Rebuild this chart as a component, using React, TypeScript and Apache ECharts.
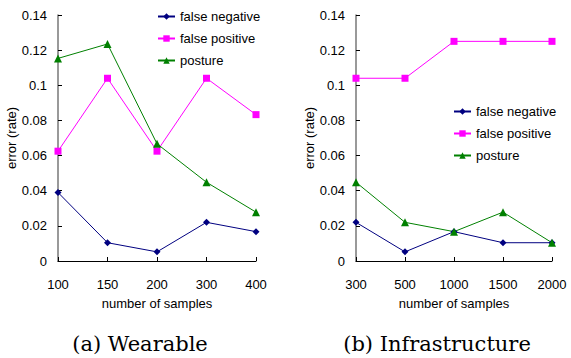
import React, { useEffect, useRef } from "react";
import * as echarts from "echarts";

const wearableX = ["100", "150", "200", "300", "400"];
const infraX = ["300", "500", "1000", "1500", "2000"];

const wearableFalseNeg = [0.039, 0.0104, 0.0052, 0.022, 0.0167];
const wearableFalsePos = [0.0625, 0.104, 0.0625, 0.104, 0.0833];
const wearablePosture = [0.1153, 0.1235, 0.0667, 0.0448, 0.0278];

const infraFalseNeg = [0.022, 0.0052, 0.0167, 0.0104, 0.0104];
const infraFalsePos = [0.104, 0.104, 0.125, 0.125, 0.125];
const infraPosture = [0.0448, 0.022, 0.0167, 0.0278, 0.0104];

const seriesNames = ["false negative", "false positive", "posture"];
const seriesColors = ["#000080", "#ff00ff", "#008000"];
const seriesSymbols = ["diamond", "rect", "triangle"];
const seriesSizes = [7, 7, 8];

const captions = ["(a) Wearable", "(b) Infrastructure"];
const axisTitleX = "number of samples";
const axisTitleY = "error (rate)";

const FONT = "'Liberation Sans', Arial, sans-serif";

export default function App() {
  const ref = useRef<HTMLDivElement>(null);
  useEffect(() => {
    document.body.style.margin = "0";
    const chart = echarts.init(ref.current!, undefined, { renderer: "svg" });

    const xAxisBase = (data: string[], gridIndex: number) => ({
      type: "category",
      gridIndex,
      data,
      boundaryGap: false,
      axisLine: { lineStyle: { color: "#000", width: 1 } },
      axisTick: { inside: true, length: 4, alignWithLabel: true, lineStyle: { color: "#000" } },
      axisLabel: { color: "#000", fontFamily: FONT, fontSize: 13, margin: 17 },
      name: axisTitleX,
      nameLocation: "middle",
      nameGap: 36,
      nameTextStyle: { color: "#000", fontFamily: FONT, fontSize: 13 },
      splitLine: { show: false },
    });
    const yAxisBase = (gridIndex: number) => ({
      type: "value",
      gridIndex,
      min: 0,
      max: 0.14,
      interval: 0.02,
      axisLine: { show: true, lineStyle: { color: "#777", width: 1.5 } },
      axisTick: { show: true, inside: true, length: 4, lineStyle: { color: "#000" } },
      axisLabel: { color: "#000", fontFamily: FONT, fontSize: 13, margin: 11 },
      splitLine: { show: false },
      name: axisTitleY,
      nameLocation: "middle",
      nameRotate: 90,
      nameGap: 33,
      nameTextStyle: { color: "#000", fontFamily: FONT, fontSize: 13 },
    });

    const groups = [
      [wearableFalseNeg, wearableFalsePos, wearablePosture],
      [infraFalseNeg, infraFalsePos, infraPosture],
    ];
    const series: any[] = [];
    groups.forEach((g, gi) => {
      g.forEach((vals, si) => {
        series.push({
          type: "line",
          name: seriesNames[si],
          xAxisIndex: gi,
          yAxisIndex: gi,
          data: vals,
          symbol: seriesSymbols[si],
          symbolSize: seriesSizes[si],
          showAllSymbol: true,
          color: seriesColors[si],
          lineStyle: { color: seriesColors[si], width: 1 },
          itemStyle: { color: seriesColors[si] },
        });
      });
    });

    const legendBase = {
      orient: "vertical",
      data: seriesNames,
      itemWidth: 17,
      itemHeight: 8,
      itemGap: 9,
      padding: 0,
      textStyle: { color: "#000", fontFamily: FONT, fontSize: 13 },
      selectedMode: false,
    };

    chart.setOption({
      animation: false,
      backgroundColor: "#fff",
      grid: [
        { left: 58, top: 15, width: 198, height: 246 },
        { left: 356, top: 15, width: 196, height: 246 },
      ],
      xAxis: [xAxisBase(wearableX, 0), xAxisBase(infraX, 1)],
      yAxis: [yAxisBase(0), yAxisBase(1)],
      legend: [
        { ...legendBase, left: 157, top: 10 },
        { ...legendBase, left: 453, top: 105 },
      ],
      series,
      graphic: [
        {
          type: "text",
          x: 140,
          y: 344,
          style: {
            text: captions[0],
            font: "21px 'DejaVu Serif', serif",
            fill: "#000",
            textAlign: "center",
            textVerticalAlign: "middle",
          },
        },
        {
          type: "text",
          x: 437,
          y: 344,
          style: {
            text: captions[1],
            font: "21px 'DejaVu Serif', serif",
            fill: "#000",
            textAlign: "center",
            textVerticalAlign: "middle",
          },
        },
      ],
    });
    return () => chart.dispose();
  }, []);
  return <div ref={ref} style={{ width: 571, height: 358 }} />;
}
